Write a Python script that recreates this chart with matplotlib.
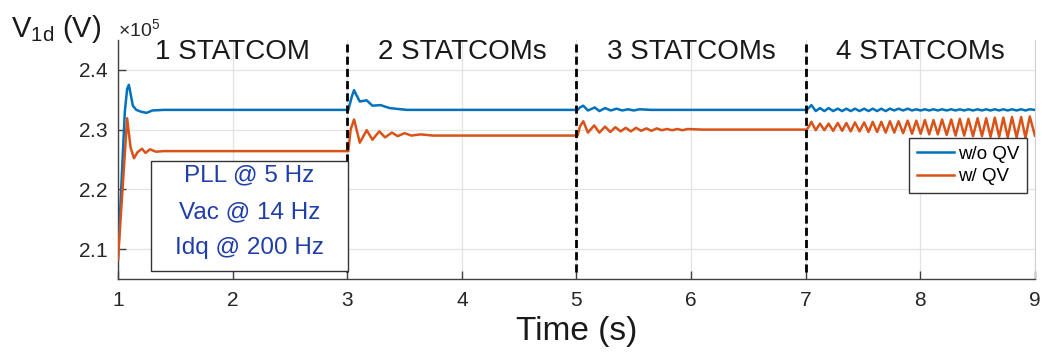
import matplotlib
matplotlib.use("Agg")
import matplotlib.pyplot as plt
from matplotlib.patches import Rectangle
from matplotlib.transforms import blended_transform_factory
import numpy as np

plt.rcParams['font.family'] = ['Liberation Sans', 'DejaVu Sans']
plt.rcParams['mathtext.fontset'] = 'custom'
plt.rcParams['mathtext.rm'] = 'Liberation Sans'
plt.rcParams['mathtext.it'] = 'Liberation Sans:italic'
plt.rcParams['mathtext.bf'] = 'Liberation Sans:bold'

# V1d traces, (time [s], value [x1e5 V]), one list per section
woqv_sec1 = [(1.000, 2.082), (1.040, 2.250), (1.060, 2.330), (1.080, 2.368), (1.095, 2.375),
             (1.110, 2.360), (1.130, 2.340), (1.160, 2.333), (1.200, 2.330), (1.250, 2.328),
             (1.300, 2.332), (1.400, 2.333), (3.010, 2.333)]
woqv_sec2 = [(3.040, 2.355), (3.060, 2.366), (3.080, 2.358), (3.110, 2.347), (3.140, 2.348),
             (3.170, 2.349), (3.220, 2.340), (3.290, 2.341), (3.370, 2.336), (3.520, 2.333),
             (5.010, 2.333)]
woqv_sec3 = [(5.030, 2.337), (5.060, 2.340), (5.100, 2.332), (5.160, 2.337), (5.200, 2.331),
             (5.250, 2.336), (5.300, 2.332), (5.350, 2.335), (5.400, 2.332), (5.450, 2.334),
             (5.500, 2.332), (5.550, 2.334), (5.650, 2.333), (7.010, 2.333)]
woqv_sec4 = [(7.030, 2.337), (7.050, 2.341), (7.088, 2.331), (7.125, 2.336), (7.163, 2.331),
             (7.200, 2.336), (7.240, 2.331), (7.280, 2.335), (7.318, 2.331), (7.355, 2.335),
             (7.393, 2.331), (7.430, 2.335), (7.470, 2.331), (7.510, 2.335), (7.548, 2.331),
             (7.585, 2.335), (7.623, 2.331), (7.660, 2.335), (7.698, 2.331), (7.735, 2.335),
             (7.773, 2.332), (7.810, 2.335), (7.850, 2.332), (7.890, 2.335), (7.928, 2.332),
             (7.965, 2.334), (8.003, 2.332), (8.040, 2.334), (8.078, 2.332), (8.115, 2.334),
             (8.153, 2.332), (8.190, 2.334), (8.230, 2.332), (8.270, 2.334), (8.308, 2.332),
             (8.345, 2.334), (8.383, 2.332), (8.420, 2.334), (8.460, 2.332), (8.500, 2.334),
             (8.538, 2.332), (8.575, 2.334), (8.613, 2.332), (8.650, 2.334), (8.688, 2.332),
             (8.725, 2.334), (8.763, 2.332), (8.800, 2.334), (8.840, 2.332), (8.880, 2.334),
             (8.918, 2.332), (8.955, 2.334), (9.000, 2.333)]

wqv_sec1 = [(1.000, 2.082), (1.040, 2.200), (1.080, 2.319), (1.110, 2.270), (1.140, 2.252),
            (1.170, 2.262), (1.210, 2.268), (1.240, 2.261), (1.280, 2.267), (1.330, 2.263),
            (1.400, 2.264), (3.010, 2.264)]
wqv_sec2 = [(3.030, 2.300), (3.060, 2.317), (3.110, 2.278), (3.170, 2.299), (3.220, 2.283),
            (3.280, 2.297), (3.330, 2.287), (3.390, 2.295), (3.440, 2.289), (3.500, 2.294),
            (3.560, 2.290), (3.640, 2.292), (3.750, 2.290), (5.010, 2.290)]
wqv_sec3 = [(5.030, 2.305), (5.060, 2.314), (5.100, 2.295), (5.155, 2.307), (5.200, 2.295),
            (5.250, 2.305), (5.295, 2.296), (5.340, 2.304), (5.385, 2.297), (5.430, 2.303),
            (5.475, 2.297), (5.520, 2.303), (5.565, 2.298), (5.610, 2.302), (5.655, 2.298),
            (5.700, 2.302), (5.745, 2.299), (5.790, 2.301), (5.835, 2.299), (5.880, 2.301),
            (5.925, 2.299), (5.970, 2.301), (6.100, 2.300), (7.010, 2.300)]
wqv_sec4 = [(7.030, 2.306), (7.050, 2.313), (7.088, 2.299), (7.125, 2.310), (7.163, 2.299),
            (7.200, 2.310), (7.240, 2.298), (7.280, 2.311), (7.318, 2.298), (7.355, 2.311),
            (7.393, 2.297), (7.430, 2.312), (7.470, 2.297), (7.510, 2.312), (7.548, 2.296),
            (7.585, 2.313), (7.623, 2.296), (7.660, 2.313), (7.698, 2.295), (7.735, 2.314),
            (7.773, 2.295), (7.810, 2.314), (7.850, 2.294), (7.890, 2.315), (7.928, 2.293),
            (7.965, 2.315), (8.003, 2.293), (8.040, 2.316), (8.078, 2.292), (8.115, 2.316),
            (8.153, 2.292), (8.190, 2.317), (8.230, 2.291), (8.270, 2.317), (8.308, 2.290),
            (8.345, 2.318), (8.383, 2.290), (8.420, 2.318), (8.460, 2.289), (8.500, 2.319),
            (8.538, 2.289), (8.575, 2.319), (8.613, 2.288), (8.650, 2.320), (8.688, 2.288),
            (8.725, 2.320), (8.763, 2.287), (8.800, 2.321), (8.840, 2.287), (8.880, 2.321),
            (8.918, 2.286), (8.955, 2.322), (9.000, 2.290)]

series_labels = ['w/o QV', 'w/ QV']
switch_times = [3, 5, 7]
section_centers = [2, 4, 6, 8]
section_labels = ['1 STATCOM', '2 STATCOMs', '3 STATCOMs', '4 STATCOMs']
x_ticks = [1, 2, 3, 4, 5, 6, 7, 8, 9]
y_ticks = [2.1, 2.2, 2.3, 2.4]
note_lines = ['PLL @ 5 Hz', 'Vac @ 14 Hz', 'Idq @ 200 Hz']

BLUE = '#0072BD'
ORANGE = '#D95319'
AXIS = '#404040'
SCALE = 1e5

fig = plt.figure(figsize=(10.42, 3.6), dpi=100)
ax = fig.add_axes([0.1132, 0.225, 0.880, 0.664])

for secs, color, label in [
    ([woqv_sec1, woqv_sec2, woqv_sec3, woqv_sec4], BLUE, series_labels[0]),
    ([wqv_sec1, wqv_sec2, wqv_sec3, wqv_sec4], ORANGE, series_labels[1]),
]:
    pts = [p for s in secs for p in s]
    t = np.array([p[0] for p in pts])
    v = np.array([p[1] for p in pts]) * SCALE
    ax.plot(t, v, color=color, lw=1.8, label=label, solid_joinstyle='round', zorder=3)

# STATCOM switching instants
for ts in switch_times:
    ax.axvline(ts, ymin=0.03, ymax=1.0, color='black', lw=2,
               linestyle=(0, (2.9, 1.5)), zorder=4)

trans = blended_transform_factory(ax.transData, ax.transAxes)
for c, lab in zip(section_centers, section_labels):
    ax.text(c, 0.9205, lab, transform=trans, ha='center', va='baseline',
            fontsize=20, color='#1a1a1a')

# controller bandwidth note
ax.add_patch(Rectangle((0.036, 0.0335), 0.2148, 0.460, transform=ax.transAxes,
                       facecolor='white', edgecolor='#333333', lw=1.0, zorder=5))
for line, yy in zip(note_lines, [0.435, 0.280, 0.130]):
    ax.text(0.1434, yy, line, transform=ax.transAxes, ha='center', va='center',
            fontsize=17.5, color='#1f3ea8', zorder=6)

ax.set_xlim(1, 9)
ax.set_ylim(2.05 * SCALE, 2.45 * SCALE)
ax.set_xticks(x_ticks)
ax.set_yticks([y * SCALE for y in y_ticks])
ax.ticklabel_format(axis='y', style='sci', scilimits=(0, 0), useMathText=True)
ax.yaxis.get_offset_text().set_fontsize(14)
ax.yaxis.get_offset_text().set_color('#555555')

ax.grid(True, color='#e3e3e3', lw=0.9)
ax.set_axisbelow(True)
ax.tick_params(direction='in', length=6, width=1, colors=AXIS, labelsize=15,
               labelcolor='#262626')
ax.tick_params(axis='x', pad=9)
ax.tick_params(axis='y', pad=7)
ax.spines['top'].set_visible(False)
ax.spines['right'].set_color('#d0d0d0')
for side in ['left', 'bottom']:
    ax.spines[side].set_color(AXIS)
    ax.spines[side].set_linewidth(1.0)

ax.set_xlabel('Time (s)', fontsize=24, color='#1a1a1a', labelpad=4)
fig.text(0.011, 1 - 37 / 360, r'V$_{\mathregular{1d}}$ (V)', fontsize=21,
         color='#1a1a1a', va='baseline', ha='left')

leg = ax.legend(loc='upper right', bbox_to_anchor=(0.991, 0.590), fontsize=13.5,
                frameon=True, fancybox=False, edgecolor='#333333', framealpha=1,
                handlelength=2.0, handletextpad=0.2, labelspacing=0.3,
                borderpad=0.4, borderaxespad=0)
leg.get_frame().set_linewidth(1.0)
leg.set_zorder(6)

fig.savefig('out.png', dpi=100)
